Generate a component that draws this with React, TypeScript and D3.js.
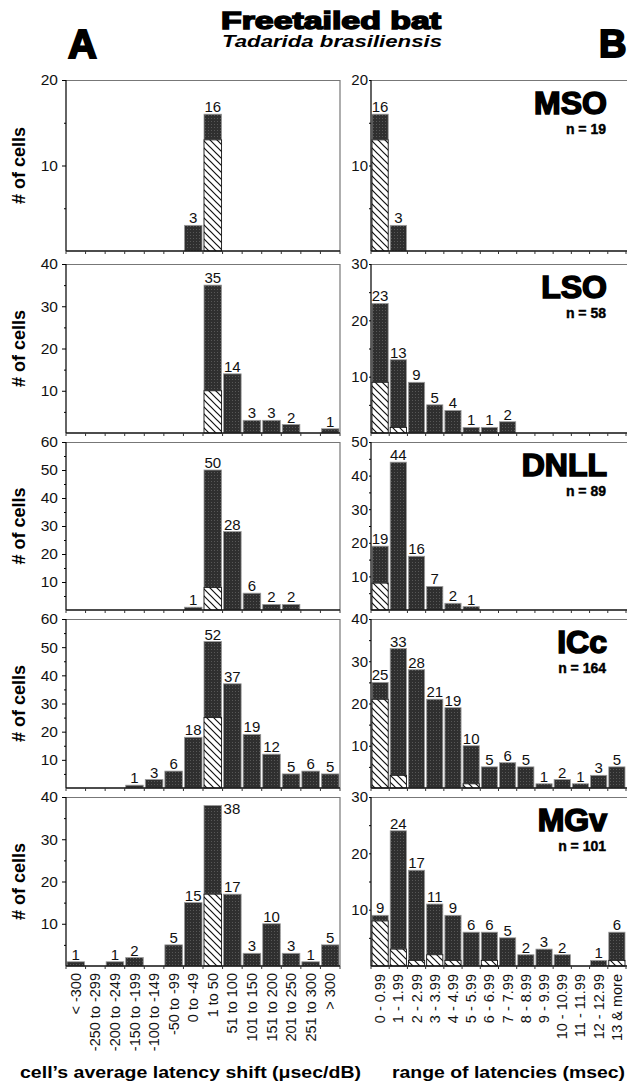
import * as React from 'react'
import {select, scaleBand, scaleLinear, axisLeft, range} from 'd3'

const {useRef, useEffect} = React

// bins
const shiftBins = ['< -300', '-250 to -299', '-200 to -249', '-150 to -199', '-100 to -149', '-50 to -99', '0 to -49',
  '1 to 50', '51 to 100', '101 to 150', '151 to 200', '201 to 250', '251 to 300', '> 300']
const rangeBins = ['0 - 0.99', '1 - 1.99', '2 - 2.99', '3 - 3.99', '4 - 4.99', '5 - 5.99', '6 - 6.99', '7 - 7.99',
  '8 - 8.99', '9 - 9.99', '10 - 10.99', '11 - 11.99', '12 - 12.99', '13 & more']

const nuclei = ['MSO', 'LSO', 'DNLL', 'ICc', 'MGv']
const nCells = [19, 58, 89, 164, 101]

// panel A: latency shift, total and hatched part
const shiftTotals = [
  [0, 0, 0, 0, 0, 0, 3, 16, 0, 0, 0, 0, 0, 0],
  [0, 0, 0, 0, 0, 0, 0, 35, 14, 3, 3, 2, 0, 1],
  [0, 0, 0, 0, 0, 0, 1, 50, 28, 6, 2, 2, 0, 0],
  [0, 0, 0, 1, 3, 6, 18, 52, 37, 19, 12, 5, 6, 5],
  [1, 0, 1, 2, 0, 5, 15, 38, 17, 3, 10, 3, 1, 5],
]
const shiftHatched = [
  [0, 0, 0, 0, 0, 0, 0, 13, 0, 0, 0, 0, 0, 0],
  [0, 0, 0, 0, 0, 0, 0, 10, 0, 0, 0, 0, 0, 0],
  [0, 0, 0, 0, 0, 0, 0, 8, 0, 0, 0, 0, 0, 0],
  [0, 0, 0, 0, 0, 0, 0, 25, 0, 0, 0, 0, 0, 0],
  [0, 0, 0, 0, 0, 0, 0, 17, 0, 0, 0, 0, 0, 0],
]
const shiftMax = [20, 40, 60, 60, 40]

// panel B: range of latencies
const rangeTotals = [
  [16, 3, 0, 0, 0, 0, 0, 0, 0, 0, 0, 0, 0, 0],
  [23, 13, 9, 5, 4, 1, 1, 2, 0, 0, 0, 0, 0, 0],
  [19, 44, 16, 7, 2, 1, 0, 0, 0, 0, 0, 0, 0, 0],
  [25, 33, 28, 21, 19, 10, 5, 6, 5, 1, 2, 1, 3, 5],
  [9, 24, 17, 11, 9, 6, 6, 5, 2, 3, 2, 0, 1, 6],
]
const rangeHatched = [
  [13, 0, 0, 0, 0, 0, 0, 0, 0, 0, 0, 0, 0, 0],
  [9, 1, 0, 0, 0, 0, 0, 0, 0, 0, 0, 0, 0, 0],
  [8, 0, 0, 0, 0, 0, 0, 0, 0, 0, 0, 0, 0, 0],
  [21, 3, 0, 0, 0, 1, 0, 0, 0, 0, 0, 0, 0, 0],
  [8, 3, 1, 2, 1, 0, 1, 0, 0, 0, 0, 0, 0, 1],
]
const rangeMax = [20, 30, 50, 40, 30]

const W = 627
const H = 1088
const rows = [[80, 251], [264, 433], [442, 610], [619, 788], [797, 966]]
const FONT = '"Liberation Sans", Arial, Helvetica, sans-serif'

function drawPanel(svg, bins, totals, hatched, ymax, xr, top, bottom, side) {
  const x = scaleBand().domain(bins).range(xr)
  const y = scaleLinear().domain([0, ymax]).range([bottom, top])
  const bw = x.bandwidth()
  const g = svg.append('g')

  // frame
  g.append('line').attr('x1', xr[0]).attr('x2', side === 'A' ? xr[1] : W)
    .attr('y1', top + 0.5).attr('y2', top + 0.5).attr('stroke', '#777').attr('stroke-width', 1.2)
  if (side === 'A') {
    g.append('line').attr('x1', xr[1]).attr('x2', xr[1]).attr('y1', top).attr('y2', bottom)
      .attr('stroke', '#777').attr('stroke-width', 1.2)
  }

  const data = bins.map((b, i) => ({b, v: totals[i], h: hatched[i]}))

  g.selectAll('rect.dark').data(data.filter(d => d.v > 0)).join('rect')
    .attr('class', 'dark')
    .attr('x', d => x(d.b) + 1).attr('width', bw - 2)
    .attr('y', d => y(d.v)).attr('height', d => y(d.h) - y(d.v))
    .attr('fill', 'url(#stipple)').attr('stroke', '#9a9a9a').attr('stroke-width', 0.8)

  g.selectAll('rect.hatch').data(data.filter(d => d.h > 0)).join('rect')
    .attr('class', 'hatch')
    .attr('x', d => x(d.b) + 1).attr('width', bw - 2)
    .attr('y', d => y(d.h)).attr('height', d => y(0) - y(d.h))
    .attr('fill', 'url(#hatch)').attr('stroke', '#111').attr('stroke-width', 0.9)

  // value labels
  g.selectAll('text.val').data(data.filter(d => d.v > 0)).join('text')
    .attr('class', 'val')
    .attr('x', d => d.v / ymax > 0.9 ? x(d.b) + bw + 1 : x(d.b) + bw / 2)
    .attr('y', d => d.v / ymax > 0.9 ? y(d.v) + 9 : y(d.v) - 2)
    .attr('text-anchor', d => d.v / ymax > 0.9 ? 'start' : 'middle')
    .attr('font-size', 15).attr('font-family', FONT).attr('fill', '#111')
    .text(d => d.v)

  // axes lines
  g.append('line').attr('x1', xr[0]).attr('x2', side === 'A' ? xr[1] : W)
    .attr('y1', bottom).attr('y2', bottom).attr('stroke', '#111').attr('stroke-width', 1.3)
  g.append('line').attr('x1', xr[0]).attr('x2', xr[0]).attr('y1', top).attr('y2', bottom)
    .attr('stroke', '#111').attr('stroke-width', 1.3)

  // x ticks at bin edges
  g.selectAll('line.xt').data(range(bins.length + 1)).join('line')
    .attr('class', 'xt')
    .attr('x1', k => xr[0] + k * bw).attr('x2', k => xr[0] + k * bw)
    .attr('y1', bottom).attr('y2', bottom + 3).attr('stroke', '#333')

  // y axis
  const major = axisLeft(y).tickValues(range(10, ymax + 1, 10)).tickSize(side === 'A' ? 4 : 2)
    .tickPadding(side === 'A' ? 4 : 1)
  const ya = g.append('g').attr('transform', `translate(${xr[0]},0)`).call(major)
  ya.select('.domain').remove()
  ya.selectAll('text').attr('font-size', side === 'A' ? 15.5 : 15).attr('font-family', FONT).attr('fill', '#111')
  const minor = axisLeft(y).tickValues(range(5, ymax, 10)).tickSize(2).tickFormat(() => '')
  const ym = g.append('g').attr('transform', `translate(${xr[0]},0)`).call(minor)
  ym.select('.domain').remove()
}

export default function App() {
  const ref = useRef(null)

  useEffect(() => {
    const svg = select(ref.current)
    svg.selectAll('*').remove()

    const defs = svg.append('defs')
    const hp = defs.append('pattern').attr('id', 'hatch').attr('patternUnits', 'userSpaceOnUse')
      .attr('width', 7).attr('height', 7)
    hp.append('rect').attr('width', 7).attr('height', 7).attr('fill', '#fff')
    hp.append('path').attr('d', 'M-1,-1 L8,8 M-1,6 L1,8 M6,-1 L8,1')
      .attr('stroke', '#111').attr('stroke-width', 1.2)
    const sp = defs.append('pattern').attr('id', 'stipple').attr('patternUnits', 'userSpaceOnUse')
      .attr('width', 3).attr('height', 3)
    sp.append('rect').attr('width', 3).attr('height', 3).attr('fill', '#2f2f2f')
    sp.append('rect').attr('x', 1).attr('y', 1).attr('width', 1).attr('height', 1).attr('fill', '#575757')

    svg.append('rect').attr('width', W).attr('height', H).attr('fill', '#fff')

    // headings
    svg.append('text').attr('x', 221).attr('y', 29).attr('font-size', 24).attr('font-weight', 'bold')
      .attr('font-family', FONT).attr('stroke', '#000').attr('stroke-width', 1.5)
      .attr('textLength', 220).attr('lengthAdjust', 'spacingAndGlyphs').text('Freetailed bat')
    svg.append('text').attr('x', 222).attr('y', 47).attr('font-size', 16).attr('font-weight', 'bold')
      .attr('font-style', 'italic').attr('font-family', FONT)
      .attr('textLength', 220).attr('lengthAdjust', 'spacingAndGlyphs').text('Tadarida brasiliensis')
    svg.append('text').attr('x', 68).attr('y', 58).attr('font-size', 40).attr('font-weight', 'bold')
      .attr('font-family', FONT).attr('stroke', '#000').attr('stroke-width', 2).text('A')
    svg.append('text').attr('x', 599).attr('y', 57).attr('font-size', 38).attr('font-weight', 'bold')
      .attr('font-family', FONT).attr('stroke', '#000').attr('stroke-width', 2).text('B')

    rows.forEach(([top, bottom], i) => {
      drawPanel(svg, shiftBins, shiftTotals[i], shiftHatched[i], shiftMax[i], [66, 340], top, bottom, 'A')
      drawPanel(svg, rangeBins, rangeTotals[i], rangeHatched[i], rangeMax[i], [371, 626], top, bottom, 'B')

      // y label
      const cy = (top + bottom) / 2
      svg.append('text').attr('transform', `translate(25,${cy}) rotate(-90)`).attr('text-anchor', 'middle')
        .attr('font-size', 18).attr('font-weight', 'bold').attr('font-family', FONT).text('# of cells')

      // nucleus name
      svg.append('text').attr('x', 607).attr('y', top + 34).attr('text-anchor', 'end')
        .attr('font-size', 32).attr('font-weight', 'bold').attr('font-family', FONT)
        .attr('stroke', '#000').attr('stroke-width', 1.6).text(nuclei[i])
      svg.append('text').attr('x', 606).attr('y', top + 54).attr('text-anchor', 'end')
        .attr('font-size', 14).attr('font-weight', 'bold').attr('font-family', FONT)
        .attr('stroke', '#000').attr('stroke-width', 0.4).text(`n = ${nCells[i]}`)
    })

    // x tick labels (rotated)
    const last = rows[rows.length - 1][1]
    const xa = scaleBand().domain(shiftBins).range([66, 340])
    svg.selectAll('text.xa').data(shiftBins).join('text').attr('class', 'xa')
      .attr('transform', d => `translate(${xa(d) + xa.bandwidth() / 2 + 5},${last + 7}) rotate(-90)`)
      .attr('text-anchor', 'end').attr('font-size', 14.5).attr('font-family', FONT).attr('fill', '#111')
      .text(d => d)
    const xb = scaleBand().domain(rangeBins).range([371, 626])
    svg.selectAll('text.xb').data(rangeBins).join('text').attr('class', 'xb')
      .attr('transform', d => `translate(${xb(d) + xb.bandwidth() / 2 + 5},${last + 8}) rotate(-90)`)
      .attr('text-anchor', 'end').attr('font-size', 14.5).attr('font-family', FONT).attr('fill', '#111')
      .text(d => d)

    svg.append('text').attr('x', 20).attr('y', 1078).attr('font-size', 16.5).attr('font-weight', 'bold')
      .attr('font-family', FONT).attr('textLength', 341).attr('lengthAdjust', 'spacingAndGlyphs')
      .text('cell\u2019s average latency shift (\u03bcsec/dB)')
    svg.append('text').attr('x', 392).attr('y', 1078).attr('font-size', 16.5).attr('font-weight', 'bold')
      .attr('font-family', FONT).attr('textLength', 233).attr('lengthAdjust', 'spacingAndGlyphs')
      .text('range of latencies (msec)')
  }, [])

  return (
    <svg ref={ref} width={W} height={H}
      style={{position: 'absolute', left: 0, top: 0, display: 'block'}} />
  )
}
